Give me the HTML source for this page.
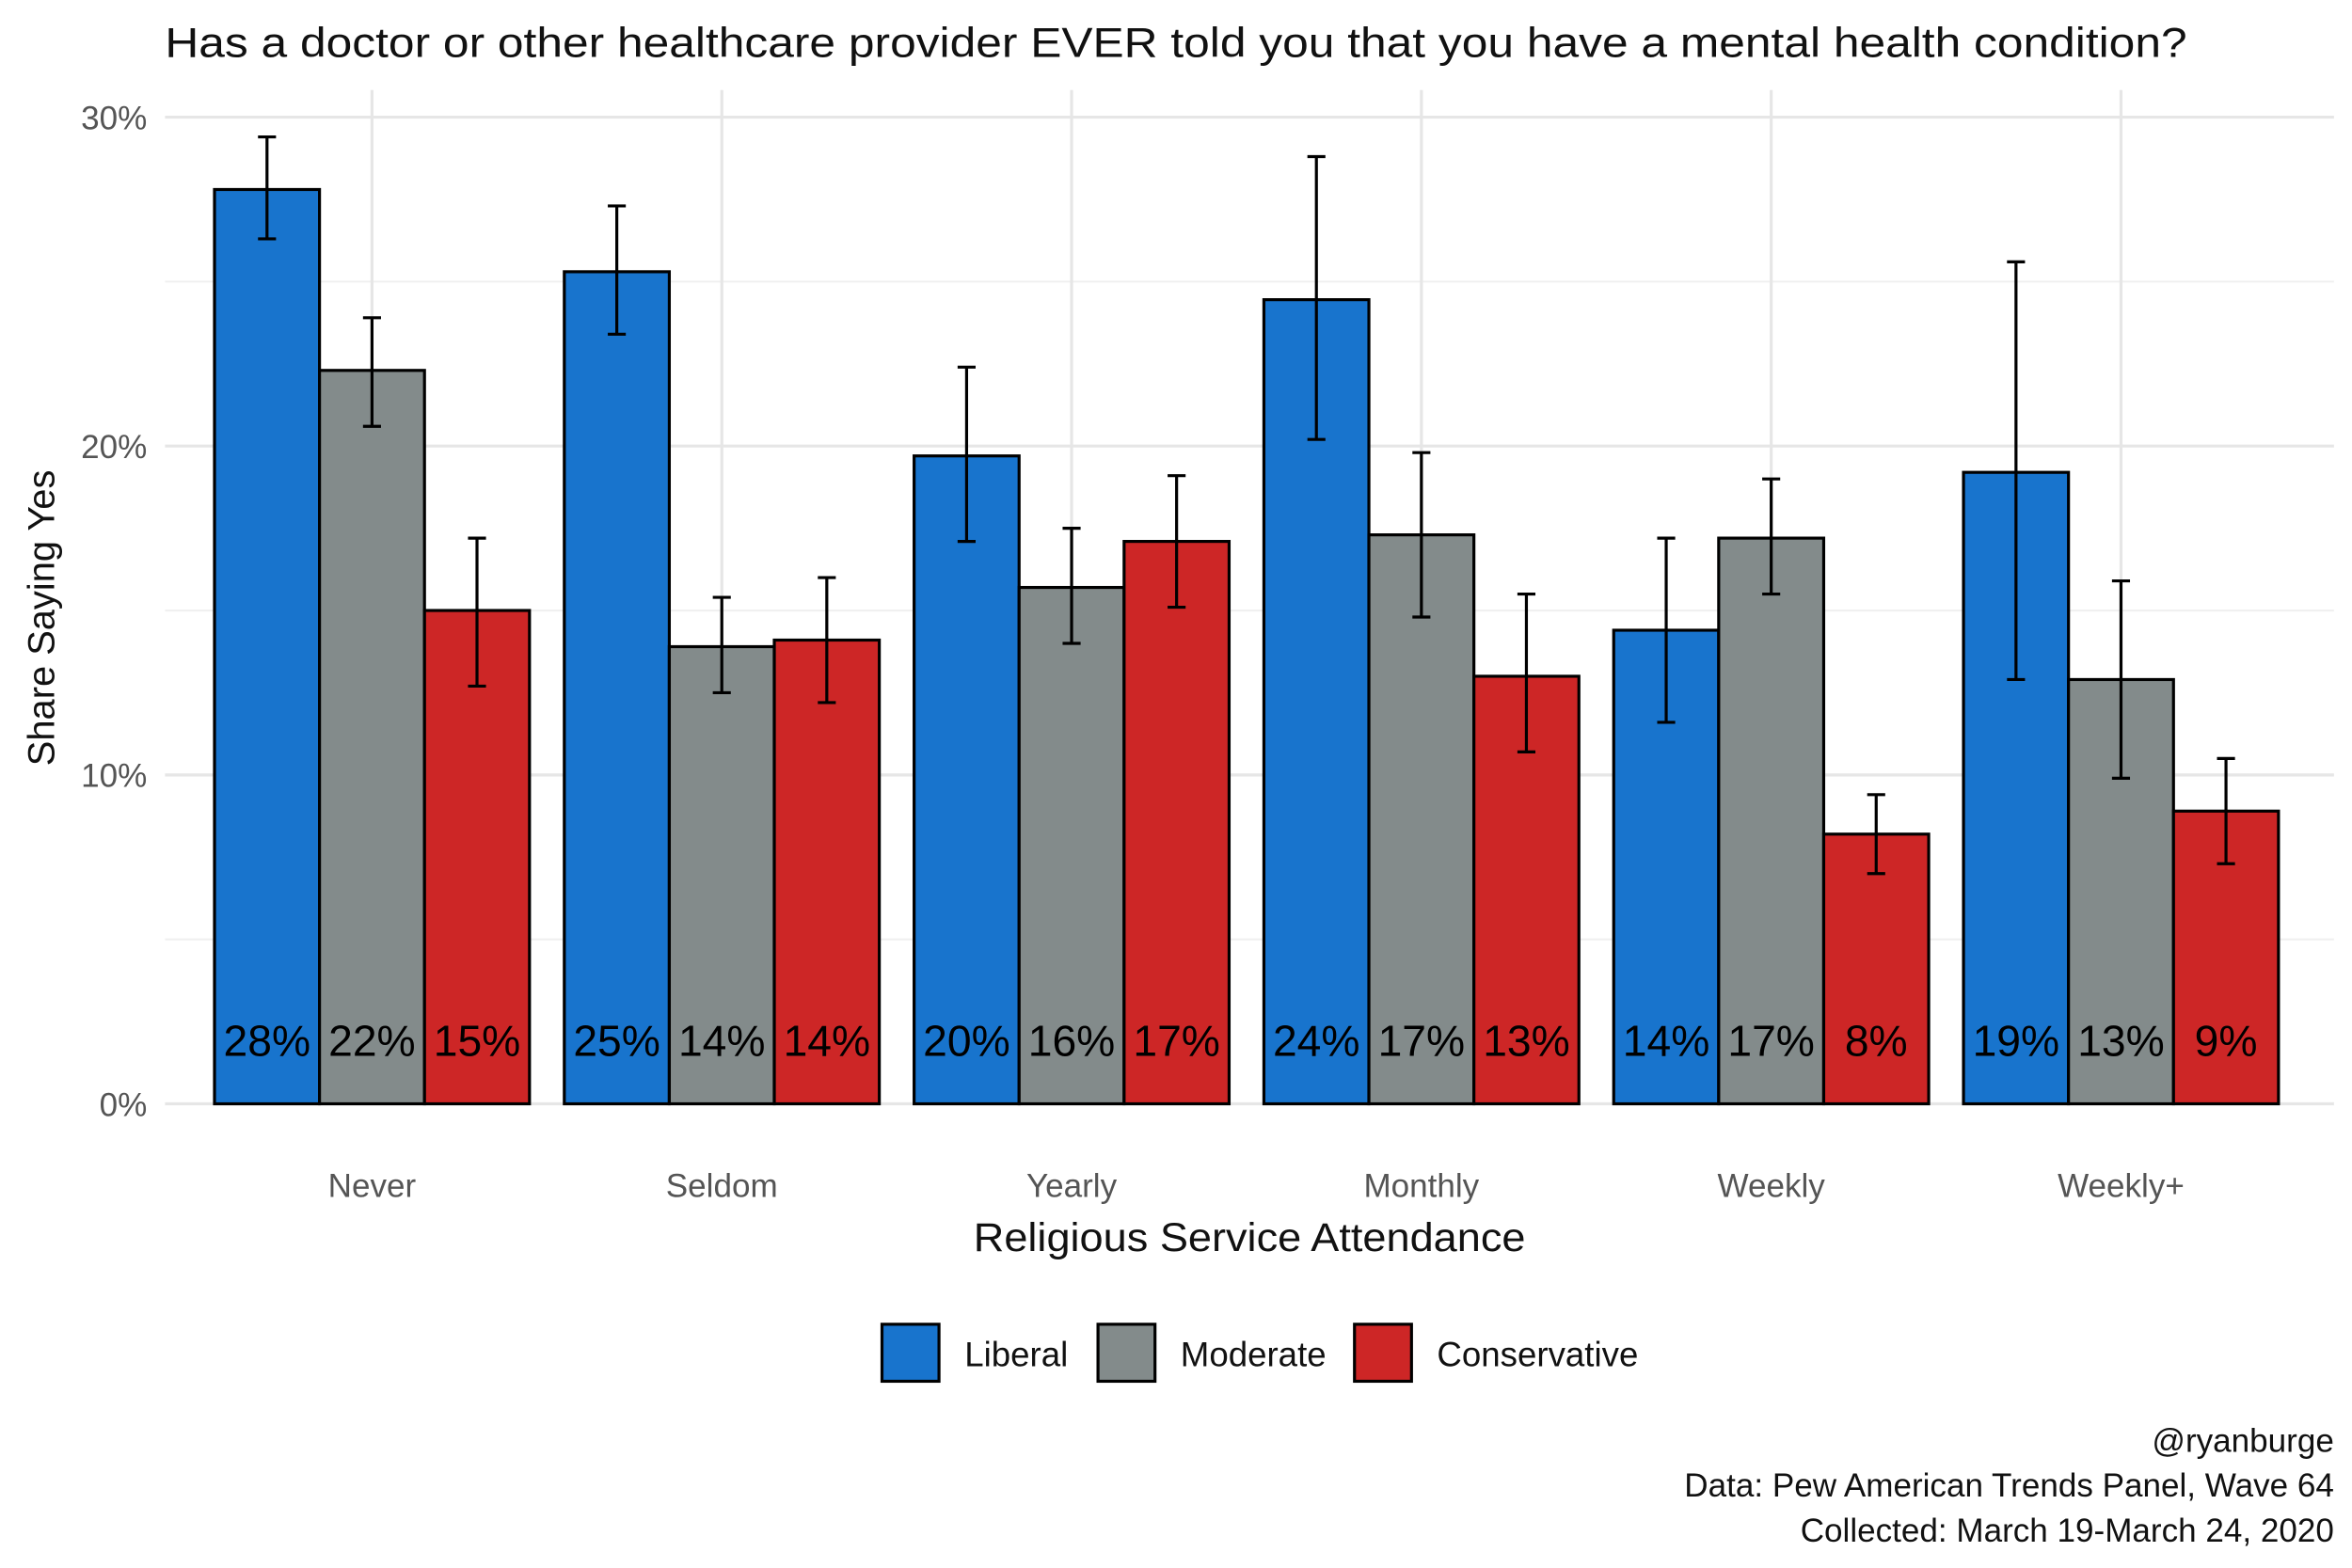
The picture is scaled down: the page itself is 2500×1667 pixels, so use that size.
<!DOCTYPE html>
<html><head><meta charset="utf-8"><style>
html,body{margin:0;padding:0;background:#fff}
svg{display:block}
text{font-family:"Liberation Sans",sans-serif}
</style></head><body>
<svg id="chart" width="2500" height="1667" viewBox="0 0 1568 1045.5" xmlns="http://www.w3.org/2000/svg">
<rect width="1568" height="1045.5" fill="#fff"/>
<text x="110" y="38" font-size="28" fill="#111" textLength="1348" lengthAdjust="spacingAndGlyphs">Has a doctor or other healthcare provider EVER told you that you have a mental health condition?</text>
<g id="grid"></g>
<g id="bars"></g>
<text transform="translate(36,412) rotate(-90)" text-anchor="middle" font-size="25" fill="#111">Share Saying Yes</text>
<text x="833" y="834" text-anchor="middle" font-size="27" fill="#111" textLength="368" lengthAdjust="spacingAndGlyphs">Religious Service Attendance</text>
<g>
<rect x="588" y="883" width="38" height="38" fill="#1874cd" stroke="#000" stroke-width="2"/>
<text x="643" y="911" font-size="23" fill="#111">Liberal</text>
<rect x="732" y="883" width="38" height="38" fill="#838b8b" stroke="#000" stroke-width="2"/>
<text x="787" y="911" font-size="23" fill="#111">Moderate</text>
<rect x="903" y="883" width="38" height="38" fill="#cd2626" stroke="#000" stroke-width="2"/>
<text x="958" y="911" font-size="23" fill="#111">Conservative</text>
</g>
<g font-size="22" fill="#111" text-anchor="end">
<text x="1556" y="968">@ryanburge</text>
<text x="1556" y="998">Data: Pew American Trends Panel, Wave 64</text>
<text x="1556" y="1028">Collected: March 19-March 24, 2020</text>
</g>
</svg>
<script>
const categories=["Never","Seldom","Yearly","Monthly","Weekly","Weekly+"];
const seriesNames=["Liberal","Moderate","Conservative"];
const liberal=[27.8,25.3,19.7,24.45,14.4,19.2];
const moderate=[22.3,13.9,15.7,17.3,17.2,12.9];
const conservative=[15.0,14.1,17.1,13.0,8.2,8.9];
const liberalLow=[26.3,23.4,17.1,20.2,11.6,12.9];
const liberalHigh=[29.4,27.3,22.4,28.8,17.2,25.6];
const moderateLow=[20.6,12.5,14.0,14.8,15.5,9.9];
const moderateHigh=[23.9,15.4,17.5,19.8,19.0,15.9];
const conservativeLow=[12.7,12.2,15.1,10.7,7.0,7.3];
const conservativeHigh=[17.2,16.0,19.1,15.5,9.4,10.5];
const yTicks=[0,10,20,30];
const yTickLabels=["0%","10%","20%","30%"];

const NS="http://www.w3.org/2000/svg";
const colors=["#1874cd","#838b8b","#cd2626"];
const y=v=>736-v*21.93;
const xc=i=>248+i*233.2;
function mk(tag,attrs,parent){const e=document.createElementNS(NS,tag);for(const k in attrs)e.setAttribute(k,attrs[k]);parent.appendChild(e);return e;}
const grid=document.getElementById('grid');
for(let t=0;t<=30;t+=5){
  const g=mk('line',{x1:110,x2:1556,y1:y(t),y2:y(t),stroke:t%10===0?'#e6e6e6':'#f0f0f0','stroke-width':t%10===0?2:1.3},grid);
  
  
}
categories.forEach((c,i)=>{
  const g=mk('line',{x1:xc(i),x2:xc(i),y1:60,y2:736,stroke:'#e6e6e6','stroke-width':2},grid);
  
  
  const t=mk('text',{x:xc(i),y:798,'text-anchor':'middle','font-size':22,fill:'#555'},grid);
  t.textContent=c;
  
  
});
yTicks.forEach((v,k)=>{
  const t=mk('text',{x:98,y:y(v)+8,'text-anchor':'end','font-size':22,fill:'#555'},grid);
  t.textContent=yTickLabels[k];
  
  
});
const vals=[liberal,moderate,conservative];
const lows=[liberalLow,moderateLow,conservativeLow];
const highs=[liberalHigh,moderateHigh,conservativeHigh];
const bars=document.getElementById('bars');
const bw=70;
categories.forEach((c,i)=>{
  for(let s=0;s<3;s++){
    const x0=xc(i)-105+s*bw;
    const v=vals[s][i];
    const r=mk('rect',{x:x0,y:y(v),width:bw,height:y(0)-y(v),fill:colors[s],stroke:'#000','stroke-width':2},bars);
    
    
  }
});
categories.forEach((c,i)=>{
  for(let s=0;s<3;s++){
    const cx=xc(i)-105+s*bw+bw/2;
    const lo=y(lows[s][i]),hi=y(highs[s][i]);
    const e=mk('path',{d:`M${cx-6},${hi}H${cx+6}M${cx},${hi}V${lo}M${cx-6},${lo}H${cx+6}`,stroke:'#000','stroke-width':2,fill:'none'},bars);
    
    
    const t=mk('text',{x:cx,y:704,'text-anchor':'middle','font-size':29,fill:'#000'},bars);
    t.textContent=Math.round(vals[s][i])+'%';
    
    
  }
});
</script>
</body></html>
